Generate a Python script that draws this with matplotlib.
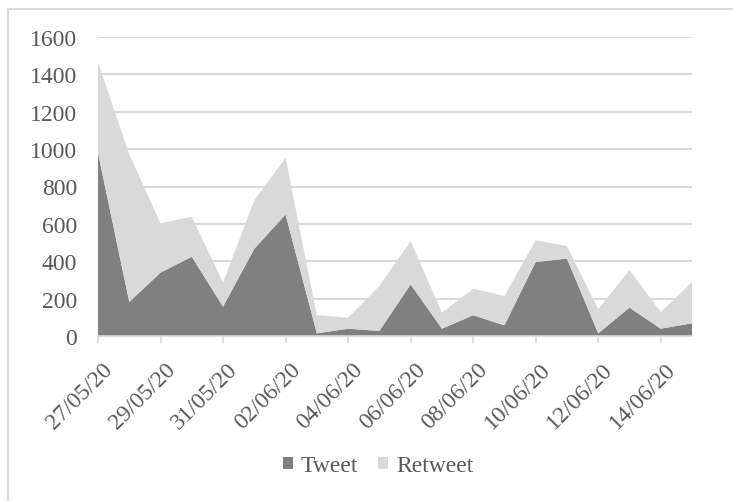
import matplotlib
matplotlib.use('Agg')
import matplotlib.pyplot as plt
import matplotlib.transforms as mtransforms
import numpy as np
from matplotlib.patches import Rectangle

# daily counts (27/05/20 .. 15/06/20)
dates = ['27/05/20', '28/05/20', '29/05/20', '30/05/20', '31/05/20',
         '01/06/20', '02/06/20', '03/06/20', '04/06/20', '05/06/20',
         '06/06/20', '07/06/20', '08/06/20', '09/06/20', '10/06/20',
         '11/06/20', '12/06/20', '13/06/20', '14/06/20', '15/06/20']
tweet = [980, 182, 339, 424, 157, 467, 650, 14, 39, 27,
         276, 39, 111, 57, 396, 414, 14, 152, 39, 68]
retweet = [485, 790, 264, 214, 128, 260, 302, 97, 59, 241,
           232, 86, 142, 157, 116, 67, 129, 201, 89, 221]

plt.rcParams['font.family'] = ['Liberation Serif', 'DejaVu Serif']

W, H = 733, 502
fig = plt.figure(figsize=(W / 100, H / 100), dpi=100)
ax = fig.add_axes([98 / W, 1 - 337 / H, (692 - 98) / W, (337 - 38) / H])

x = np.arange(len(dates))
ax.stackplot(x, tweet, retweet, colors=['#808080', '#d9d9d9'],
             labels=['Tweet', 'Retweet'], linewidth=0)

ax.set_xlim(0, len(dates) - 1)
ax.set_ylim(0, 1600)
ax.set_yticks(np.arange(0, 1601, 200))
ax.yaxis.grid(True, color='#d9d9d9', linewidth=1.5)
ax.set_axisbelow(True)
ax.tick_params(axis='y', length=0, pad=15, labelsize=17, labelcolor='#595959')

ax.set_xticks(x[::2])
ax.set_xticklabels(dates[::2], rotation=45, ha='right', rotation_mode='anchor')
ax.tick_params(axis='x', length=5, color='#d9d9d9', width=1.2,
               labelsize=17, labelcolor='#595959', pad=11)
# nudge the rotated labels a little to the right, like the original
shift = mtransforms.ScaledTranslation(4 / 100, 0, fig.dpi_scale_trans)
for lbl in ax.get_xticklabels():
    lbl.set_transform(lbl.get_transform() + shift)

for s in ['top', 'right', 'left']:
    ax.spines[s].set_visible(False)
ax.spines['bottom'].set_color('#d9d9d9')
ax.spines['bottom'].set_linewidth(1.2)

leg = fig.legend(loc='center', bbox_to_anchor=(0.516, 1 - 467 / H), ncol=2,
                 frameon=False, fontsize=17, handlelength=0.42, handleheight=0.42,
                 handletextpad=0.35, columnspacing=0.85, labelcolor='#595959')

# chart-area frame
fig.patches.append(Rectangle((8 / W, -0.1), 1.2, 1 - 10 / H + 0.1,
                             transform=fig.transFigure, fill=False,
                             edgecolor='#d9d9d9', linewidth=1.5))

fig.savefig('out.png', dpi=100)
